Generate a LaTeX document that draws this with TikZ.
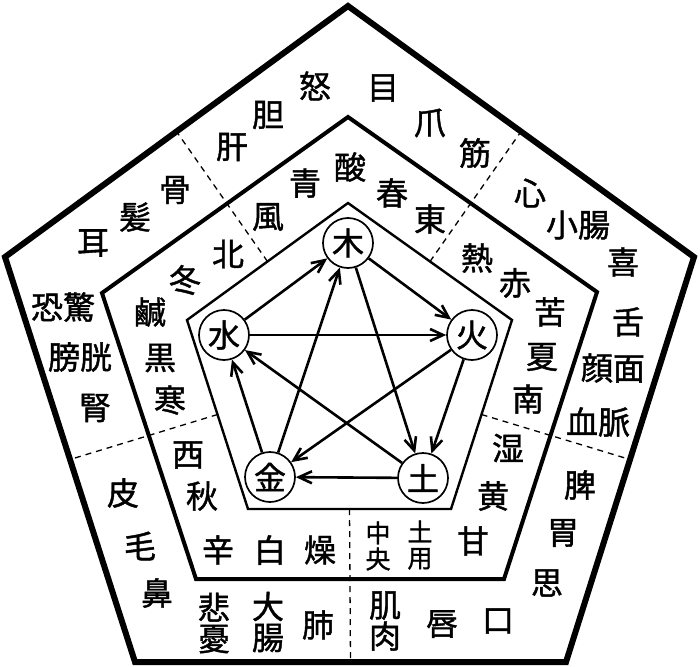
\documentclass[tikz,border=0pt]{standalone}
\usepackage{fontspec}
\newfontfamily\jp{Noto Sans CJK JP}[FakeBold=1.3]
\usetikzlibrary{arrows.meta,calc}
\begin{document}
\begin{tikzpicture}[x=1pt,y=-1pt,
  lbl/.style={inner sep=0pt, font=\jp\fontsize{32}{31}\selectfont, align=center},
  smalllbl/.style={inner sep=0pt, font=\jp\fontsize{25}{26}\selectfont, align=center},
  elem/.style={circle, draw, line width=1.7pt, minimum size=50pt, inner sep=0pt, font=\jp\fontsize{32}{30}\selectfont},
  arr/.style={line width=2.6pt, -{Straight Barb[length=13pt,width=12pt]}},
  sepline/.style={line width=1.3pt, dash pattern=on 6pt off 5pt},
  outerpent/.style={line width=6pt, line join=miter},
  midpent/.style={line width=4pt, line join=miter},
  innerpent/.style={line width=2.4pt, line join=miter},
]
\useasboundingbox (0,0) rectangle (700,666);
% pentagon corners
\coordinate (oT) at (348,6);   \coordinate (oR) at (694,257);
\coordinate (oBR) at (566,662); \coordinate (oBL) at (135,662);
\coordinate (oL) at (5,257);
\coordinate (mT) at (348,117); \coordinate (mR) at (597,292);
\coordinate (mBR) at (504,579); \coordinate (mBL) at (196,579);
\coordinate (mL) at (102,293);
\coordinate (iT) at (348,203); \coordinate (iR) at (512,320);
\coordinate (iBR) at (451,509); \coordinate (iBL) at (248,509);
\coordinate (iL) at (187,320);
% sector boundaries
\coordinate (d1a) at ($(iT)!0.5!(iL)$);   \coordinate (d1b) at ($(oT)!0.5!(oL)$);
\coordinate (d2a) at ($(iT)!0.5!(iR)$);   \coordinate (d2b) at ($(oT)!0.5!(oR)$);
\coordinate (d3a) at ($(iR)!0.5!(iBR)$);  \coordinate (d3b) at ($(oR)!0.5!(oBR)$);
\coordinate (d4a) at ($(iBR)!0.5!(iBL)$); \coordinate (d4b) at ($(oBR)!0.5!(oBL)$);
\coordinate (d5a) at ($(iBL)!0.5!(iL)$);  \coordinate (d5b) at ($(oBL)!0.5!(oL)$);
\draw[sepline] (d1a) -- (d1b);
\draw[sepline] (d2a) -- (d2b);
\draw[sepline] (d3a) -- (d3b);
\draw[sepline] (d4a) -- (d4b);
\draw[sepline] (d5a) -- (d5b);
% pentagons
\fill[white] (iT) -- (iR) -- (iBR) -- (iBL) -- (iL) -- cycle;
\draw[outerpent] (oT) -- (oR) -- (oBR) -- (oBL) -- (oL) -- cycle;
\draw[midpent] (mT) -- (mR) -- (mBR) -- (mBL) -- (mL) -- cycle;
\draw[innerpent] (iT) -- (iR) -- (iBR) -- (iBL) -- (iL) -- cycle;
% five elements
\node[elem] (mu)   at (348,243) {木};
\node[elem] (huo)  at (472,335) {火};
\node[elem] (tu)   at (423,478) {土};
\node[elem] (jin)  at (270,477) {金};
\node[elem] (shui) at (224,335) {水};
% generating cycle
\draw[arr] (shui) -- (mu);
\draw[arr] (mu) -- (huo);
\draw[arr] (huo) -- (tu);
\draw[arr] (tu) -- (jin);
\draw[arr] (jin) -- (shui);
% controlling cycle
\draw[arr] (shui) -- (huo);
\draw[arr] (huo) -- (jin);
\draw[arr] (jin) -- (mu);
\draw[arr] (mu) -- (tu);
\draw[arr] (tu) -- (shui);
% wood sector
\node[lbl] (gan)  at (232,147) {肝};
\node[lbl] (dan)  at (268,115) {胆};
\node[lbl] (nu)   at (315,86)  {怒};
\node[lbl] (mug)  at (383,88)  {目};
\node[lbl] (zhao) at (430,123) {爪};
\node[lbl] (jinb) at (475,153) {筋};
\node[lbl] (feng) at (268,217) {風};
\node[lbl] (qing) at (305,183) {青};
\node[lbl] (suan) at (350,167) {酸};
\node[lbl] (chun) at (392,193) {春};
\node[lbl] (dong) at (430,219) {東};
% fire sector
\node[lbl] (xin)  at (530,193) {心};
\node[lbl] (xch)  at (578,225) {小腸};
\node[lbl] (xi)   at (623,262) {喜};
\node[lbl] (she)  at (628,322) {舌};
\node[lbl] (yan)  at (613,368) {顔面};
\node[lbl] (xue)  at (598,422) {血脈};
\node[lbl] (re)   at (477,258) {熱};
\node[lbl] (chi)  at (515,283) {赤};
\node[lbl] (ku)   at (550,312) {苦};
\node[lbl] (xia)  at (542,357) {夏};
\node[lbl] (nan)  at (528,399) {南};
% earth sector
\node[lbl] (pi)   at (580,485) {脾};
\node[lbl] (wei)  at (563,533) {胃};
\node[lbl] (si)   at (547,583) {思};
\node[lbl] (kou)  at (498,621) {口};
\node[lbl] (chun2) at (442,624) {唇};
\node[lbl] (jirou) at (385,621) {肌\\肉};
\node[lbl] (shi)  at (508,448) {湿};
\node[lbl] (huang) at (493,496) {黄};
\node[lbl] (gan2) at (473,541) {甘};
\node[smalllbl] (tuyong) at (420,545) {土\\用};
\node[smalllbl] (zhong) at (378,546) {中\\央};
% metal sector
\node[lbl] (pif)  at (123,493) {皮};
\node[lbl] (mao)  at (140,546) {毛};
\node[lbl] (bi)   at (157,593) {鼻};
\node[lbl] (beiyou) at (214,623) {悲\\憂};
\node[lbl] (dach) at (268,622) {大\\腸};
\node[lbl] (fei)  at (318,625) {肺};
\node[lbl] (xi2)  at (188,455) {西};
\node[lbl] (qiu)  at (202,496) {秋};
\node[lbl] (xin2) at (218,550) {辛};
\node[lbl] (bai)  at (270,550) {白};
\node[lbl] (zao)  at (320,550) {燥};
% water sector
\node[lbl] (gu)   at (175,190) {骨};
\node[lbl] (fa)   at (135,217) {髪};
\node[lbl] (er)   at (93,243)  {耳};
\node[lbl] (kong) at (63,307)  {恐驚};
\node[lbl] (pang) at (80,357)  {膀胱};
\node[lbl] (shen) at (95,408)  {腎};
\node[lbl] (bei)  at (228,254) {北};
\node[lbl] (dong2) at (185,280) {冬};
\node[lbl] (xian) at (150,312) {鹹};
\node[lbl] (hei)  at (160,358) {黒};
\node[lbl] (han)  at (170,400) {寒};
\end{tikzpicture}
\end{document}
